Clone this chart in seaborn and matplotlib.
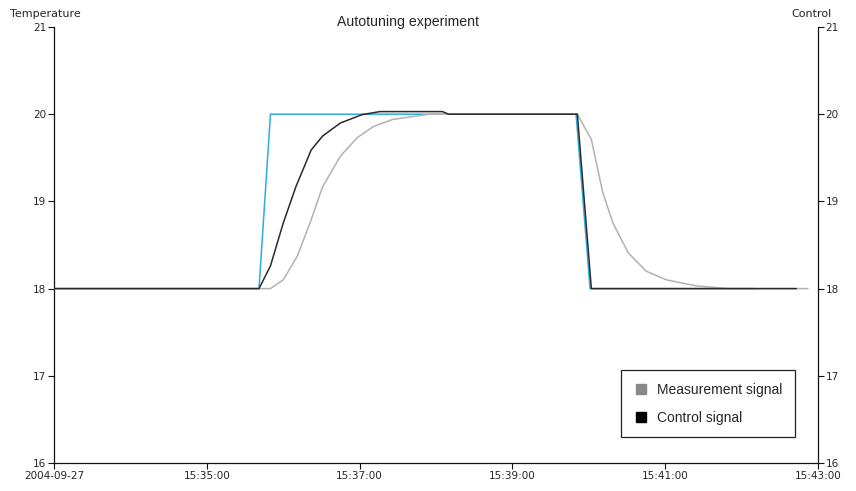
import matplotlib
matplotlib.use("Agg")
import matplotlib.pyplot as plt
import matplotlib.dates as mdates
from matplotlib.lines import Line2D
import seaborn as sns
import pandas as pd

DAY = "2004-09-27 "

setpoint_t = ["15:33:00", "15:35:41", "15:35:50", "15:39:50", "15:40:01", "15:42:10"]
setpoint_v = [18, 18, 20, 20, 18, 18]

control_t = ["15:33:00", "15:35:41", "15:35:50", "15:36:00", "15:36:10", "15:36:22",
             "15:36:31", "15:36:45", "15:37:02", "15:37:16", "15:38:05", "15:38:10",
             "15:39:51", "15:40:02", "15:42:43"]
control_v = [18.0, 18.0, 18.26, 18.75, 19.17, 19.59,
             19.75, 19.90, 19.995, 20.03, 20.03, 20.0,
             20.0, 18.0, 18.0]

meas_t = ["15:33:00", "15:35:50", "15:36:00", "15:36:11", "15:36:21", "15:36:31",
          "15:36:45", "15:36:58", "15:37:11", "15:37:26", "15:37:55", "15:39:51",
          "15:40:02", "15:40:11", "15:40:19", "15:40:31", "15:40:45", "15:41:01",
          "15:41:25", "15:41:50", "15:42:52"]
meas_v = [18.0, 18.0, 18.10, 18.37, 18.75, 19.17,
          19.52, 19.73, 19.86, 19.94, 20.0, 20.0,
          19.71, 19.10, 18.75, 18.41, 18.20, 18.10,
          18.03, 18.0, 18.0]

xtick_t = ["15:33:00", "15:35:00", "15:37:00", "15:39:00", "15:41:00", "15:43:00"]
xtick_labels = ["2004-09-27", "15:35:00", "15:37:00", "15:39:00", "15:41:00", "15:43:00"]
yticks = [16, 17, 18, 19, 20, 21]

def frame(ts, vs):
    return pd.DataFrame({"time": pd.to_datetime([DAY + t for t in ts]), "value": vs})

sns.set_style("ticks")
plt.rcParams["font.family"] = ["DejaVu Sans"]

fig = plt.figure(figsize=(8.56, 4.91), dpi=100)
ax = fig.add_axes([54 / 856, 1 - 463 / 491, 764 / 856, 436 / 491])

BLUE = "#2aaee0"
GRAY = "#b2b2b2"
BLACK = "#2a2a2a"

sns.lineplot(data=frame(setpoint_t, setpoint_v), x="time", y="value", ax=ax,
             color=BLUE, linewidth=1.1, zorder=2)
sns.lineplot(data=frame(meas_t, meas_v), x="time", y="value", ax=ax,
             color=GRAY, linewidth=1.1, zorder=3)
sns.lineplot(data=frame(control_t, control_v), x="time", y="value", ax=ax,
             color=BLACK, linewidth=1.1, zorder=4)

xt = pd.to_datetime([DAY + t for t in xtick_t])
ax.set_xlim(xt[0], xt[-1])
ax.set_ylim(16, 21)
ax.set_xticks(mdates.date2num(xt))
ax.set_xticklabels(xtick_labels)
ax.set_yticks(yticks)
ax.set_yticklabels([str(v) for v in yticks])
ax.set_xlabel("")
ax.set_ylabel("")
ax.grid(False)

for s in ["left", "bottom"]:
    ax.spines[s].set_linewidth(0.9)
    ax.spines[s].set_color("#111111")
ax.spines["top"].set_visible(False)
ax.spines["right"].set_visible(False)
ax.tick_params(axis="both", length=4, width=0.8, color="#111111",
               labelsize=7.5, pad=1.5, direction="out")

ax2 = ax.twinx()
ax2.set_ylim(16, 21)
ax2.set_yticks(yticks)
ax2.set_yticklabels([str(v) for v in yticks])
for s in ["top", "left", "bottom"]:
    ax2.spines[s].set_visible(False)
ax2.spines["right"].set_visible(True)
ax2.spines["right"].set_linewidth(0.9)
ax2.spines["right"].set_color("#111111")
ax2.tick_params(axis="y", length=4, width=0.8, color="#111111",
                labelsize=7.5, pad=1.5, direction="out")

fig.text(408 / 856, 1 - 22 / 491, "Autotuning experiment", ha="center", va="center",
         fontsize=10.2, family=["Liberation Sans"])
fig.text(10 / 856, 1 - 14 / 491, "Temperature", ha="left", va="center", fontsize=8)
fig.text(832 / 856, 1 - 14 / 491, "Control", ha="right", va="center", fontsize=8)

handles = [
    Line2D([], [], linestyle="none", marker="s", markersize=7,
           markerfacecolor="#888888", markeredgecolor="#888888"),
    Line2D([], [], linestyle="none", marker="s", markersize=7,
           markerfacecolor="#000000", markeredgecolor="#000000"),
]
leg = ax.legend(handles, ["Measurement signal", "Control signal"],
                loc="lower right", bbox_to_anchor=(0.970, 0.0596),
                prop={"family": "Liberation Sans", "size": 10},
                frameon=True, fancybox=False, shadow=False,
                borderpad=0.9, labelspacing=1.0, handletextpad=0.7,
                handlelength=1.0, borderaxespad=0)
leg.get_frame().set_edgecolor("#222222")
leg.get_frame().set_linewidth(0.9)
leg.get_frame().set_alpha(1)

fig.savefig("out.png", dpi=100)
